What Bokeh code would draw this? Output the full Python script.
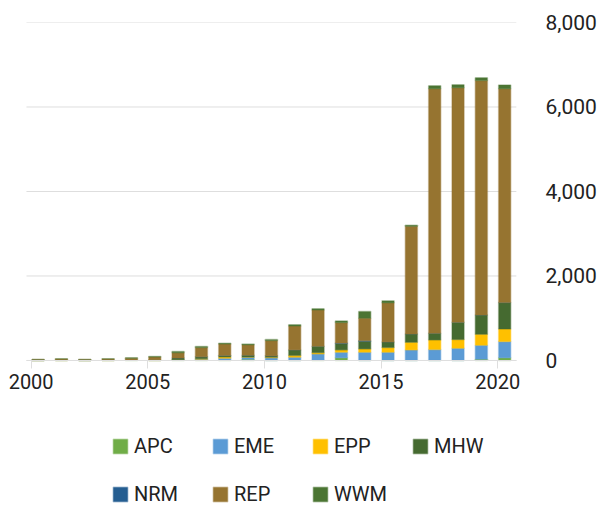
from bokeh.plotting import figure
from bokeh.models import (ColumnDataSource, FixedTicker, NumeralTickFormatter,
                          CustomJSTickFormatter, Legend, LegendItem, Range1d)
from bokeh.embed import file_html
from bokeh.resources import INLINE

years = list(range(2000, 2021))
APC = [0, 0, 0, 0, 5, 0, 10, 5, 5, 30, 0, 0, 5, 63, 0, 0, 0, 0, 0, 31, 63]
EME = [0, 0, 0, 0, 0, 0, 5, 25, 45, 45, 63, 78, 150, 133, 196, 196, 250, 259, 290, 330, 384]
EPP = [0, 10, 0, 10, 0, 15, 5, 10, 30, 10, 15, 40, 30, 55, 78, 110, 180, 227, 204, 259, 298]
MHW = [10, 0, 10, 0, 0, 0, 40, 50, 35, 40, 31, 133, 150, 150, 180, 133, 196, 157, 408, 455, 627]
NRM = [0, 0, 0, 0, 0, 0, 0, 0, 0, 0, 0, 0, 0, 10, 15, 0, 0, 0, 0, 0, 0]
REP = [12, 25, 12, 25, 50, 70, 125, 215, 275, 250, 361, 565, 860, 486, 533, 925, 2550, 5790, 5555, 5550, 5060]
WWM = [2, 5, 2, 5, 8, 10, 25, 25, 18, 17, 24, 31, 30, 40, 157, 47, 25, 70, 70, 70, 87]

names = ["APC", "EME", "EPP", "MHW", "NRM", "REP", "WWM"]
colors = ["#70AD47", "#5B9BD5", "#FFC000", "#456A30", "#255E91", "#967430", "#4B7533"]
x_ticks = [2000, 2005, 2010, 2015, 2020]
y_ticks = [0, 2000, 4000, 6000, 8000]

src = ColumnDataSource(dict(x=[y + 0.5 for y in years], APC=APC, EME=EME, EPP=EPP,
                            MHW=MHW, NRM=NRM, REP=REP, WWM=WWM))

FONT = "Roboto"
TXT = "#222222"
GRID = "#dedede"
X0, X1 = years[0], years[-1] + 1  # extent of the plotted years

# frame spans to the bottom of the canvas; the x axis is pinned at y=0
p = figure(width=599, height=507, output_backend="svg", toolbar_location=None,
           x_range=Range1d(1998.887, 2021.478), y_range=Range1d(-3480, 8000),
           y_axis_location="right",
           min_border_left=0, min_border_right=67, min_border_top=22, min_border_bottom=0)
p.outline_line_color = None
p.background_fill_color = "white"
p.xgrid.visible = False
p.ygrid.visible = False

# horizontal grid lines limited to the years' extent
p.segment(x0=[X0] * len(y_ticks), x1=[X1] * len(y_ticks), y0=y_ticks, y1=y_ticks,
          line_color=GRID, line_width=1)

rs = p.vbar_stack(names, x="x", width=0.52, source=src, fill_color=colors,
                  line_color=colors, line_alpha=0.35, line_width=1.5)

# x axis
xa = p.xaxis[0]
xa.fixed_location = 0
xa.bounds = (X0, X1)
xa.ticker = FixedTicker(ticks=[t + 0.2 for t in x_ticks])
xa.formatter = CustomJSTickFormatter(code="return String(Math.round(tick - 0.2))")
xa.axis_line_color = GRID
xa.major_tick_line_color = GRID
xa.major_tick_out = 8
xa.major_tick_in = 0
xa.minor_tick_line_color = None
xa.major_label_standoff = 6
xa.major_label_text_font = FONT
xa.major_label_text_font_size = "20px"
xa.major_label_text_color = TXT

# y axis
ya = p.yaxis[0]
ya.ticker = FixedTicker(ticks=y_ticks)
ya.formatter = NumeralTickFormatter(format="0,0")
ya.axis_line_color = None
ya.major_tick_line_color = None
ya.minor_tick_line_color = None
ya.major_label_standoff = 12
ya.major_label_text_font = FONT
ya.major_label_text_font_size = "21px"
ya.major_label_text_color = TXT

# legend items ordered so that column-major filling reads row by row
order = ["APC", "NRM", "EME", "REP", "EPP", "WWM", "MHW"]
rmap = dict(zip(names, rs))
legend = Legend(items=[LegendItem(label=n, renderers=[rmap[n]]) for n in order],
                ncols=4, nrows=2, location=(111, 1), margin=0, padding=0,
                border_line_color=None, background_fill_alpha=0,
                label_text_font=FONT, label_text_font_size="20px", label_text_color=TXT,
                glyph_width=18, glyph_height=18, label_standoff=5, spacing=24,
                label_width=53, label_height=20)
p.add_layout(legend, "center")

open("out.html", "w").write(file_html(p, INLINE))
